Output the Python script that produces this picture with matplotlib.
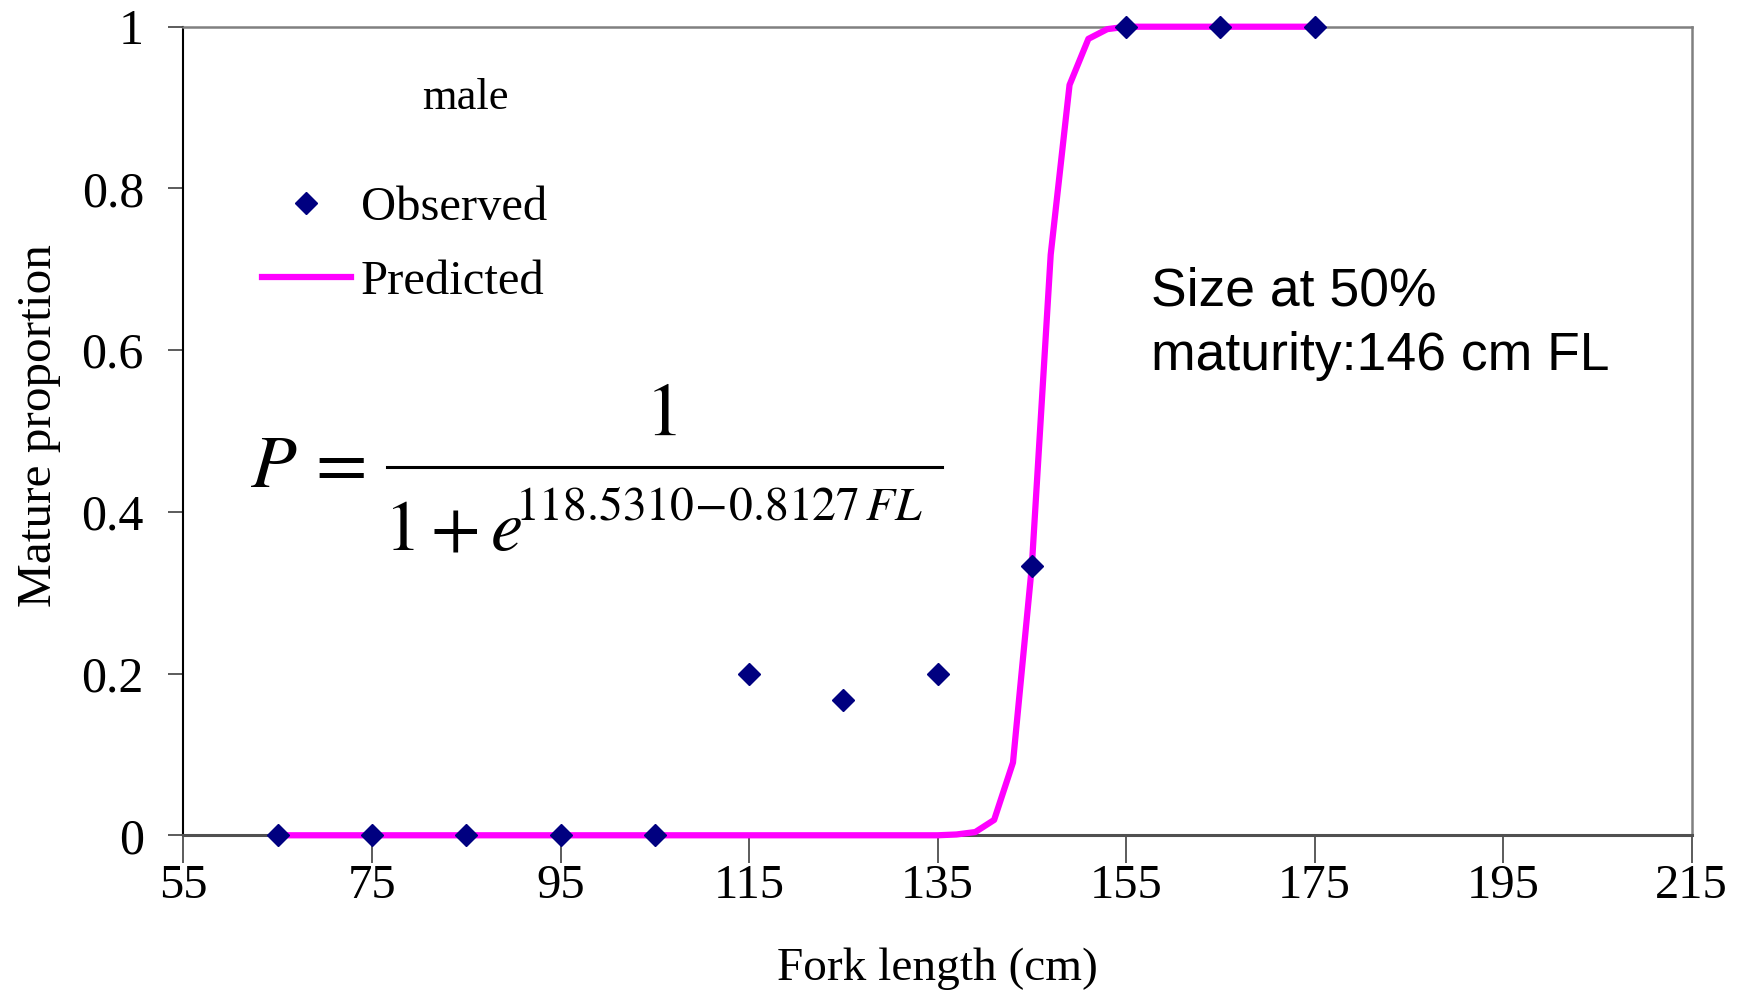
import matplotlib.pyplot as plt
from matplotlib.lines import Line2D

plt.rcParams['font.family'] = 'Liberation Serif'
plt.rcParams['mathtext.fontset'] = 'stix'

# observed points
fl_obs = [65, 75, 85, 95, 105, 115, 125, 135, 145, 155, 165, 175]
p_obs = [0, 0, 0, 0, 0, 0.2, 0.167, 0.2, 0.333, 1, 1, 1]

# predicted curve (2 cm steps)
fl_pred = [65, 67, 69, 71, 73, 75, 77, 79, 81, 83, 85, 87, 89, 91, 93, 95, 97, 99,
           101, 103, 105, 107, 109, 111, 113, 115, 117, 119, 121, 123, 125, 127, 129,
           131, 133, 135, 137, 139, 141, 143, 145, 147, 149, 151, 153, 155, 157, 159,
           161, 163, 165, 167, 169, 171, 173, 175]
p_pred = [0] * 36 + [0.001, 0.004, 0.019, 0.09, 0.333, 0.718, 0.928, 0.985, 0.997] + [1] * 11

xticks = [55, 75, 95, 115, 135, 155, 175, 195, 215]
yticks = [0, 0.2, 0.4, 0.6, 0.8, 1]
ytick_labels = ['0', '0.2', '0.4', '0.6', '0.8', '1']

fig = plt.figure(figsize=(17.44, 9.97), dpi=100)
ax = fig.add_axes([0.1052, 0.1622, 0.8648, 0.811])

ax.plot(fl_pred, p_pred, color='#FF00FF', lw=4.5, zorder=3, clip_on=False)
ax.plot(fl_obs, p_obs, linestyle='none', marker='D', ms=11.2, color='#000080',
        zorder=4, clip_on=False)

ax.set_xlim(55, 215)
ax.set_ylim(0, 1)
ax.set_xticks(xticks)
ax.set_yticks(yticks)
ax.set_yticklabels(ytick_labels)
ax.tick_params(axis='x', direction='out', length=20, width=1.2, labelsize=35, pad=1, color='#404040')
ax.tick_params(axis='y', direction='out', length=10.5, width=1.2, labelsize=36, pad=18, color='#404040')

ax.spines['left'].set_color('black')
ax.spines['left'].set_linewidth(1.5)
ax.spines['bottom'].set_color('#505050')
ax.spines['bottom'].set_linewidth(2.2)
for s in ['top', 'right']:
    ax.spines[s].set_color('#808080')
    ax.spines[s].set_linewidth(1.8)

ax.set_xlabel('Fork length (cm)', fontsize=34, labelpad=28)
ax.set_ylabel('Mature proportion', fontsize=35.5)
ax.yaxis.set_label_coords(-0.0811, 0.507)

ax.text(84.9, 0.912, 'male', fontsize=32, ha='center', va='center')

handles = [Line2D([], [], linestyle='none', marker='D', ms=11.2, color='#000080'),
           Line2D([], [], color='#FF00FF', lw=4.5)]
ax.legend(handles, ['Observed', 'Predicted'], loc='upper left',
          bbox_to_anchor=(0.052, 0.803), frameon=False, fontsize=35,
          handlelength=1.83, handletextpad=0.2, labelspacing=0.62,
          borderpad=0, borderaxespad=0)

ax.text(157.6, 0.704, 'Size at 50%\nmaturity:146 cm FL', fontsize=38.5,
        family='Liberation Sans', ha='left', va='top', linespacing=1.39)

# equation, built from pieces
tr = ax.transAxes
ax.text(0.0441, 0.4309, r'$P$', fontsize=54, ha='left', va='baseline', transform=tr)
ax.text(0.1006, 0.4555, r'$=$', fontsize=54, ha='center', va='center', transform=tr)
ax.add_line(Line2D([0.1349, 0.5029], [0.4559, 0.4559], color='black', lw=2.2, transform=tr))
ax.text(0.3163, 0.4951, r'$1$', fontsize=54, ha='center', va='baseline', transform=tr)
ax.text(0.1329, 0.3529, r'$1+e$', fontsize=52, ha='left', va='baseline', transform=tr)
ax.text(0.2198, 0.3904, r'$118.5310\!-\!0.8127\,FL$', fontsize=34.3, ha='left',
        va='baseline', transform=tr)

fig.savefig('out.png', dpi=100)
